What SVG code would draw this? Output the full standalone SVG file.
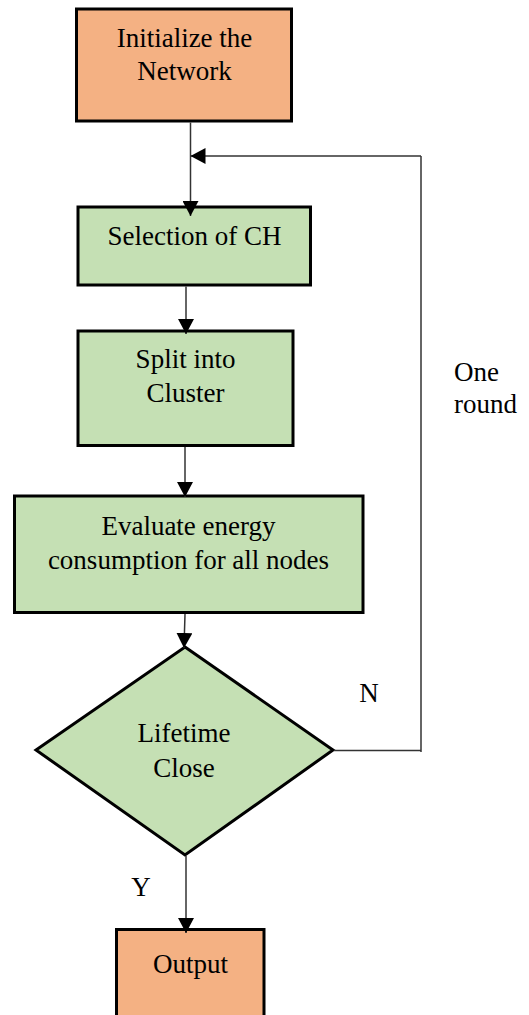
<svg xmlns="http://www.w3.org/2000/svg" width="529" height="1015" viewBox="0 0 529 1015">
<defs>
<style>
.orange{fill:#F4B183;stroke:#000;stroke-width:3}
.green{fill:#C5E0B4;stroke:#000;stroke-width:3}
.t{font-family:"Liberation Serif","Times New Roman",serif;font-size:27px;fill:#000}
.c{text-anchor:middle}
.ln{fill:none;stroke:#333;stroke-width:1.5}
</style>
<marker id="ah" viewBox="0 0 15 16" refX="15" refY="8" markerWidth="15" markerHeight="16" markerUnits="userSpaceOnUse" orient="auto">
<path d="M0,0 L15,8 L0,16 z" fill="#000"/>
</marker>
</defs>
<rect width="529" height="1015" fill="#fff"/>
<g id="n-init">
<rect class="orange" x="76.5" y="9" width="215" height="112"/>
<text class="t c" x="184.5" y="47">Initialize the</text>
<text class="t c" x="184.5" y="80">Network</text>
</g>
<g id="n-select">
<rect class="green" x="78" y="207" width="232.5" height="78"/>
<text class="t c" x="194.5" y="245">Selection of CH</text>
</g>
<g id="n-split">
<rect class="green" x="78" y="331" width="215" height="114.5"/>
<text class="t c" x="185.5" y="368">Split into</text>
<text class="t c" x="185.5" y="402">Cluster</text>
</g>
<g id="n-eval">
<rect class="green" x="14.5" y="496" width="348.5" height="116.5"/>
<text class="t c" x="188.5" y="535">Evaluate energy</text>
<text class="t c" x="188.5" y="569">consumption for all nodes</text>
</g>
<g id="n-decision">
<polygon class="green" points="185,647 333,750 185,855 36,750"/>
<text class="t c" x="184" y="742">Lifetime</text>
<text class="t c" x="184" y="777">Close</text>
</g>
<g id="n-output">
<rect class="orange" x="116.5" y="929.5" width="147.5" height="100"/>
<text class="t c" x="190.5" y="973">Output</text>
</g>
<g id="connectors">
<line class="ln" x1="190.5" y1="122.5" x2="190.5" y2="216" marker-end="url(#ah)"/>
<line class="ln" x1="421" y1="156" x2="190.5" y2="156" marker-end="url(#ah)"/>
<line class="ln" x1="421" y1="156" x2="421" y2="752"/>
<line class="ln" x1="334" y1="750.5" x2="421" y2="750.5"/>
<line class="ln" x1="186" y1="286.5" x2="186" y2="334" marker-end="url(#ah)"/>
<line class="ln" x1="185" y1="447" x2="185" y2="497" marker-end="url(#ah)"/>
<line class="ln" x1="185" y1="614" x2="184" y2="648" marker-end="url(#ah)"/>
<line class="ln" x1="186" y1="856" x2="186" y2="933" marker-end="url(#ah)"/>
</g>
<g id="labels">
<text class="t" x="454" y="381">One</text>
<text class="t" x="454" y="413">round</text>
<text class="t c" x="369" y="702">N</text>
<text class="t c" x="141" y="896">Y</text>
</g>
</svg>
